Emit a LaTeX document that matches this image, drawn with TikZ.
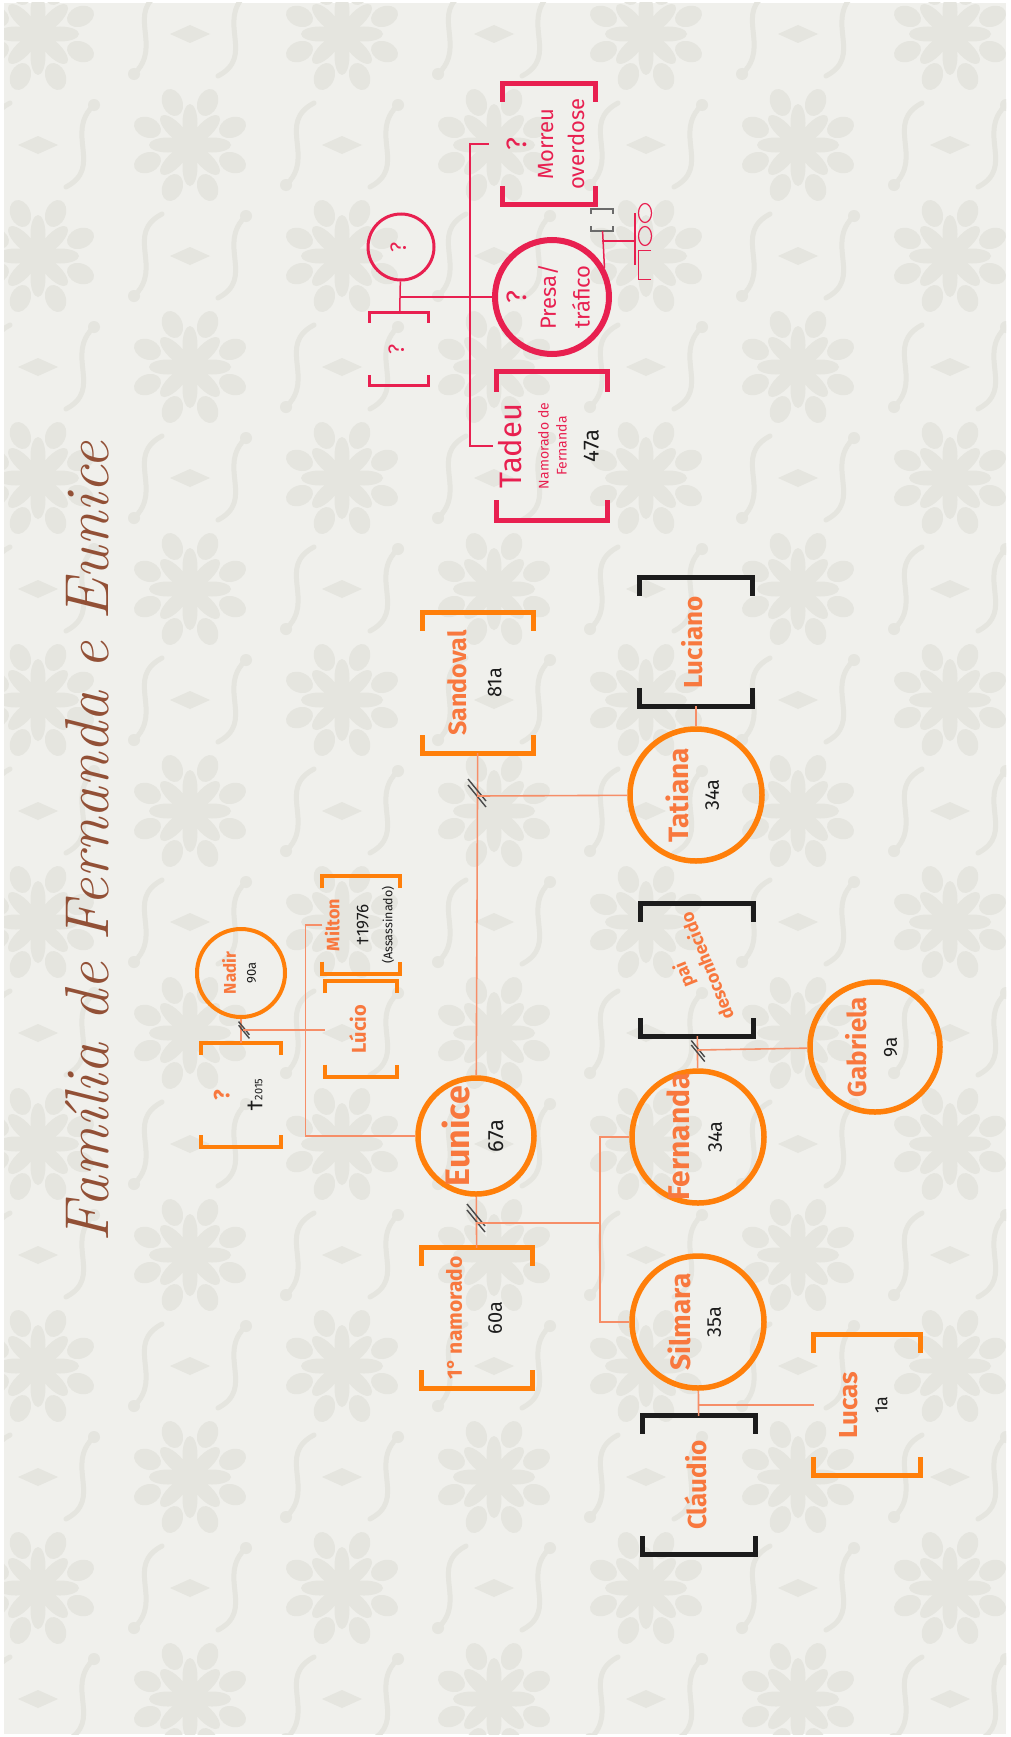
\documentclass[tikz,border=0pt]{standalone}
\usepackage{fontspec}
\usetikzlibrary{calc, shapes.geometric}

\newfontfamily\namefont{Fira Sans}

\definecolor{paper}{RGB}{240,240,236}
\definecolor{damask}{RGB}{229,229,223}
\definecolor{ring}{RGB}{255,127,10}
\definecolor{nametxt}{RGB}{248,120,62}
\definecolor{linkc}{RGB}{246,142,104}
\definecolor{rose}{RGB}{232,32,80}
\definecolor{cocoa}{RGB}{146,80,54}
\definecolor{ink}{RGB}{28,28,28}

\newcommand{\fsz}[2]{\fontsize{#1}{#2}\selectfont}
\newcommand{\stack}[1]{\makebox[0pt]{\begin{tabular}{@{}c@{}}#1\end{tabular}}}
\newcommand{\nm}[1]{\fsz{#1}{#1}\bfseries\color{nametxt}}
\newcommand{\ag}[1]{\fsz{#1}{#1}\mdseries\color{ink}}
\newcommand{\rd}[1]{\fsz{#1}{#1}\mdseries\color{rose}}

\tikzset{
  rosette/.pic={
    \foreach \a in {0,45,...,315}
      \fill[damask, rotate=\a] (22,0) ellipse [x radius=19pt, y radius=7.5pt];
    \foreach \a in {22.5,67.5,...,337.5}
      \fill[damask, rotate=\a] (46,0) ellipse [x radius=14pt, y radius=10pt];
    \fill[damask] (0,0) circle [radius=8pt];
  },
  lozenge/.pic={
    \fill[damask] (-20,0) -- (0,-9) -- (20,0) -- (0,9) -- cycle;
    \draw[damask, line width=5pt, line cap=round] (-28,-42) .. controls (-66,-22) and (-26,12) .. (-56,40);
    \draw[damask, line width=5pt, line cap=round] (28,42) .. controls (66,22) and (26,-12) .. (56,-40);
    \fill[damask] (-56,40) circle [radius=6pt] (56,-40) circle [radius=6pt];
  },
  splitmark/.pic={\draw[line width=1.4pt, ink!80] (-9,-14) -- (9,8) (-9,-8) -- (9,14);}
}

\begin{document}
\begin{tikzpicture}[x=1pt, y=-1pt,
    person/.style={circle, draw=ring, line width=5.5pt, minimum size=#1, inner sep=0pt,
      rotate=90, font=\namefont\fsz{20}{24}},
    namebox/.style 2 args={rectangle, minimum width=#1, minimum height=#2, inner sep=0pt,
      rotate=90, font=\namefont\fsz{20}{24}},
    bracketed/.style n args={3}{append after command={\pgfextra{
      \draw[draw=#1, line width=#2]
        ($(\tikzlastnode.north west)!#3!(\tikzlastnode.north east)$) -- (\tikzlastnode.north west)
          -- (\tikzlastnode.south west) -- ($(\tikzlastnode.south west)!#3!(\tikzlastnode.south east)$)
        ($(\tikzlastnode.north east)!#3!(\tikzlastnode.north west)$) -- (\tikzlastnode.north east)
          -- (\tikzlastnode.south east) -- ($(\tikzlastnode.south east)!#3!(\tikzlastnode.south west)$);}}},
    link/.style={draw=linkc, line width=1.6pt},
    rlink/.style={draw=rose, line width=1.5pt}
]
  \useasboundingbox (0,0) rectangle (1010,1737);

  % paper and damask
  \fill[white] (0,0) rectangle (1010,1737);
  \fill[paper] (4,3) rectangle (1006,1734);
  \begin{scope}
    \clip (4,3) rectangle (1006,1734);
    \foreach \i in {0,...,6} {
      \pgfmathsetmacro{\px}{38+152*\i}
      \pgfmathsetmacro{\py}{isodd(\i) ? 145 : 34}
      \foreach \j in {-1,...,8} {
        \pic at (\px, \py+222*\j) {rosette};
        \pic at (\px, \py+222*\j+111) {lozenge};
      }
    }
  \end{scope}

  % title
  \node[rotate=90, anchor=base, text=cocoa, font=\itshape\fsz{62}{62}] (title) at (108,842)
    {Família de Fernanda e Eunice};

  % first generation
  \node[person=88, line width=4pt] (nadir) at (241,973) {\stack{\nm{17}Nadir\\[-4pt]\ag{13}90a}};
  \node[namebox={104}{80}, bracketed={ring}{4pt}{12pt}] (avo) at (241,1095)
    {\stack{\nm{22}?\\[9pt]\ag{22}\textdagger{\fsz{11}{11}2015}}};
  \node[namebox={95}{72}, bracketed={ring}{4pt}{12pt}] (lucio) at (361,1029) {\stack{\nm{20}Lúcio}};
  \node[namebox={97}{72}, bracketed={ring}{4pt}{12pt}] (milton) at (361,925)
    {\stack{\nm{18}Milton\\[5pt]\ag{17}\textdagger1976\\\ag{12.5}(Assassinado)}};

  % Eunice and partners
  \node[person=116] (eunice) at (476,1136) {\stack{\nm{34}Eunice\\[10pt]\ag{22}67a}};
  \node[namebox={140}{110}, bracketed={ring}{5pt}{18pt}] (namorado) at (477,1318)
    {\stack{\nm{21}1° namorado\\[16pt]\ag{20}60a}};
  \node[namebox={140}{110}, bracketed={ring}{5pt}{18pt}] (sandoval) at (478,683)
    {\stack{\nm{25}Sandoval\\[11pt]\ag{20}81a}};

  % daughters
  \node[person=132] (tatiana) at (696,795) {\stack{\nm{28}Tatiana\\[6pt]\ag{20}34a}};
  \node[namebox={128}{112}, bracketed={ink}{5pt}{18pt}] (luciano) at (696,642) {\stack{\nm{26}Luciano}};
  \node[namebox={132}{112}, bracketed={ink}{5pt}{18pt}] (pai) at (697,970)
    {\rotatebox{22}{\stack{\nm{18}pai\\[1pt]\nm{18}desconhecido}}};
  \node[person=132] (fernanda) at (698,1137) {\stack{\nm{30}Fernanda\\[8pt]\ag{20}34a}};
  \node[person=132] (silmara) at (698,1322) {\stack{\nm{28}Silmara\\[6pt]\ag{20}35a}};
  \node[namebox={138}{112}, bracketed={ink}{5pt}{18pt}] (claudio) at (699,1485) {\stack{\nm{26}Cláudio}};

  % grandchildren
  \node[person=130] (gabriela) at (875,1047) {\stack{\nm{26}Gabriela\\[6pt]\ag{19}9a}};
  \node[namebox={140}{106}, bracketed={ring}{5pt}{18pt}] (lucas) at (867,1405)
    {\stack{\nm{26}Lucas\\[6pt]\ag{18}1a}};

  % Tadeu's family
  \node[person=66, draw=rose, line width=3pt] (qf) at (401,247) {\stack{\rd{22}?}};
  \node[namebox={72}{58}, bracketed={rose}{3pt}{10pt}] (qm) at (399,349) {\stack{\rd{22}?}};
  \node[namebox={148}{110}, bracketed={rose}{5pt}{20pt}] (tadeu) at (552,446)
    {\stack{\rd{31}Tadeu\\[3pt]\rd{14}Namorado de\\[-6pt]\rd{14}Fernanda\\[8pt]\ag{22}47a}};
  \node[person=114, draw=rose, line width=6pt] (presa) at (552,297)
    {\stack{\rd{28}?\\[4pt]\rd{22}Presa/\\[9pt]\rd{22}tráfico}};
  \node[namebox={120}{92}, bracketed={rose}{5pt}{18pt}] (morreu) at (549,144)
    {\stack{\rd{28}?\\[3pt]\rd{22}Morreu\\[7pt]\rd{22}overdose}};
  \node[namebox={22}{22}, bracketed={ink!65}{2pt}{5pt}] (partner) at (602,220) {};
  \node[ellipse, draw=rose, line width=1.2pt, minimum width=13, minimum height=19, inner sep=0pt] (kid1) at (645,213) {};
  \node[ellipse, draw=rose, line width=1.2pt, minimum width=13, minimum height=19, inner sep=0pt] (kid2) at (645,236) {};
  \node[minimum width=12, minimum height=28, inner sep=0pt] (kid3) at (645,265) {};
  \draw[rose, line width=1.2pt] (kid3.north east) -- (kid3.north west) -- (kid3.south west) -- (kid3.south east);

  % connections, first generation
  \draw[link] (nadir) -- (avo);
  \pic[scale=0.6] at (244,1030) {splitmark};
  \coordinate (c1) at (243,1030);
  \draw[link] (c1) -- (c1 -| lucio.north);
  \draw[link] (milton.north) -- ++(-17,0) |- (eunice);

  % Eunice + 1° namorado
  \draw[link] (eunice) -- (namorado);
  \pic at (476,1218) {splitmark};
  \coordinate (c2) at (476,1223);
  \coordinate (c2bar) at (600,1223);
  \draw[link] (c2) -- (c2bar);
  \draw[link] (fernanda) -| (c2bar) |- (silmara);

  % Eunice + Sandoval
  \draw[link] (eunice) -- (sandoval);
  \pic at (477,793) {splitmark};
  \coordinate (c3) at (477,796);
  \draw[link] (c3) -- (tatiana);
  \draw[link] (tatiana) -- (luciano);

  % Fernanda + pai
  \draw[link] (fernanda) -- (pai);
  \pic[scale=0.75] at (698,1051) {splitmark};
  \coordinate (c4) at (698,1050);
  \draw[link] (c4) -- (gabriela);

  % Silmara + Cláudio
  \draw[link] (silmara) -- (claudio);
  \coordinate (c5) at (698,1405);
  \draw[link] (c5) -- (lucas);

  % red family
  \draw[rlink] (qf) -- (qm);
  \coordinate (c6) at (401,297);
  \coordinate (rbar) at (470,297);
  \draw[rlink] (c6) -- (presa);
  \draw[rlink] ($(morreu.north)+(-14,0)$) -| (rbar) |- ($(tadeu.north)+(-4,0)$);
  \draw[rlink] (partner) -- (presa.-61.3);
  \coordinate (c7) at (602,241);
  \coordinate (kbar) at (635,241);
  \draw[rlink, line width=1.2pt] (c7) -- (kbar);
  \draw[rlink, line width=1.2pt] (kbar |- kid1) -- (kbar |- kid3);
\end{tikzpicture}
\end{document}
